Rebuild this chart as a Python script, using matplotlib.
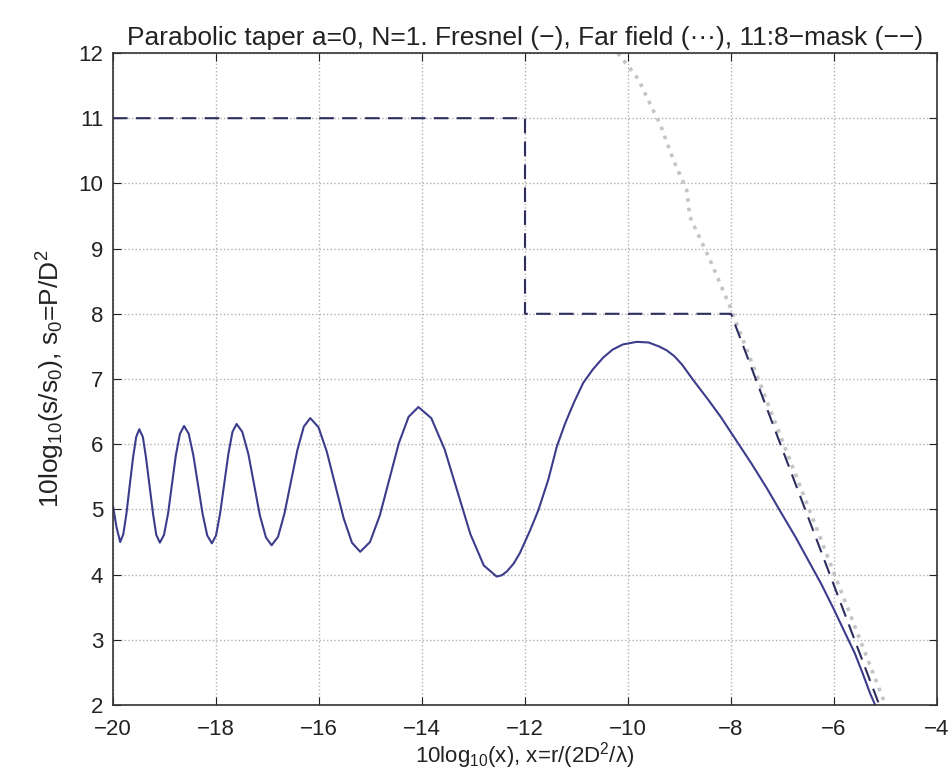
#Recreation of a MATLAB-style Fresnel / far field / mask plot

#Libraries
import matplotlib
matplotlib.use('Agg')
import matplotlib.pyplot as plt
from matplotlib import font_manager

#Data
##Fresnel curve (solid)
fresnel_x = [
    -20.00, -19.93, -19.86,
    -19.80, -19.74, -19.675, -19.61, -19.55, -19.49,
    -19.42, -19.36, -19.29, -19.22, -19.16, -19.09,
    -19.01, -18.93, -18.855, -18.78, -18.70, -18.62,
    -18.53, -18.44, -18.35, -18.26, -18.17, -18.08,
    -18.00, -17.92, -17.84, -17.76, -17.68, -17.60,
    -17.49, -17.37, -17.26, -17.15, -17.03, -16.92,
    -16.795, -16.67, -16.545, -16.42, -16.295, -16.17,
    -16.01, -15.85, -15.685, -15.52, -15.36, -15.20,
    -15.01, -14.82, -14.635, -14.45, -14.26, -14.07,
    -13.82, -13.56, -13.31, -13.06, -12.80, -12.55,
    -12.45, -12.35, -12.22, -12.10, -11.90, -11.74, -11.55, -11.38,
    -11.22, -11.05, -10.87, -10.68, -10.48, -10.30, -10.10, -9.83,
    -9.60, -9.40, -9.25, -9.10, -8.95, -8.73, -8.45, -8.20,
    -7.90, -7.60, -7.30, -7.05, -6.75, -6.50, -6.25, -6.01, -5.80,
    -5.60, -5.45, -5.30, -5.20,
]
fresnel_y = [
    5.05, 4.72, 4.50,
    4.62, 4.93, 5.37, 5.80, 6.11, 6.23,
    6.11, 5.80, 5.36, 4.92, 4.61, 4.49,
    4.61, 4.94, 5.385, 5.83, 6.16, 6.28,
    6.16, 5.83, 5.38, 4.93, 4.60, 4.48,
    4.60, 4.94, 5.395, 5.85, 6.19, 6.31,
    6.19, 5.845, 5.38, 4.915, 4.57, 4.45,
    4.58, 4.94, 5.425, 5.91, 6.27, 6.40,
    6.26, 5.89, 5.375, 4.86, 4.49, 4.35,
    4.50, 4.905, 5.46, 6.015, 6.42, 6.57,
    6.40, 5.92, 5.27, 4.62, 4.14, 3.97,
    3.99, 4.05, 4.17, 4.33, 4.68, 4.99, 5.45, 5.97,
    6.32, 6.64, 6.94, 7.15, 7.33, 7.45, 7.53, 7.57,
    7.56, 7.50, 7.44, 7.35, 7.22, 6.98, 6.69, 6.42,
    6.06, 5.70, 5.32, 4.98, 4.58, 4.22, 3.86, 3.48, 3.13,
    2.80, 2.50, 2.18, 2.00,
]

##Far field curve (dotted)
far_x = [-10.20, -9.80, -9.50, -9.38, -9.12, -8.86, -8.80, -8.41, -8.02, -5.00]
far_y = [12.00, 11.60, 11.10, 10.92, 10.36, 9.90, 9.49, 8.83, 8.11, 2.00]

##11:8 mask (dashed)
mask_x = [-20, -12, -12, -8, -5.12]
mask_y = [11, 11, 8, 8, 2]

##Axis ticks
x_ticks = list(range(-20, -3, 2))
y_ticks = list(range(2, 13))


#Font
def pick_font():
    names = {f.name for f in font_manager.fontManager.ttflist}
    for name in ['Liberation Sans Narrow', 'Liberation Sans', 'DejaVu Sans']:
        if name in names:
            return name
    return 'DejaVu Sans'


def main():
    ##Style
    font = pick_font()
    plt.rcParams['font.family'] = [font, 'DejaVu Sans']
    plt.rcParams['mathtext.fontset'] = 'custom'
    plt.rcParams['mathtext.rm'] = font
    plt.rcParams['mathtext.it'] = font
    plt.rcParams['font.size'] = 16

    ##Figure
    fig = plt.figure(figsize=(9.48, 7.78), dpi=100)
    ax = fig.add_axes([0.1192, 0.0938, 0.9884 - 0.1192, 0.9319 - 0.0938])

    ##Curves
    ax.plot(far_x, far_y, linestyle=':', color='#c4c4c8', linewidth=2.6)
    ax.plot(mask_x, mask_y, linestyle='--', color='#2e2e5e', linewidth=1.5,
            dashes=(7, 4))
    ax.plot(fresnel_x, fresnel_y, linestyle='-', color='#3c3c8c', linewidth=1.5,
            solid_joinstyle='round')

    ##Axes
    ax.set_xlim(-20, -4)
    ax.set_ylim(2, 12)
    ax.set_xticks(x_ticks)
    ax.set_yticks(y_ticks)
    ax.set_xticklabels(['\u2212' + str(abs(t)) for t in x_ticks])
    ax.tick_params(direction='in', top=True, right=True, length=6,
                   labelsize=16, colors='#222222')
    ax.tick_params(axis='x', pad=10)
    ax.tick_params(axis='y', pad=7)
    ax.grid(True, linestyle=':', color='#b0b0b0', linewidth=1.0)
    for spine in ax.spines.values():
        spine.set_color('#333333')
        spine.set_linewidth(1.2)

    ##Texts
    ax.set_title('Parabolic taper a=0, N=1. Fresnel (\u2212), Far field (\u00b7\u00b7\u00b7), '
                 '11:8\u2212mask (\u2212\u2212)', fontsize=19, pad=6, color='#222222')
    ax.set_xlabel(r'10log$_{10}$(x), x=r/(2D$^2$/$\lambda$)', fontsize=16,
                  labelpad=0, color='#222222')
    ax.set_ylabel(r'10log$_{10}$(s/s$_0$), s$_0$=P/D$^2$', fontsize=19,
                  labelpad=8, color='#222222')

    fig.savefig('out.png', dpi=100)
    plt.close(fig)


if __name__ == '__main__':
    main()
